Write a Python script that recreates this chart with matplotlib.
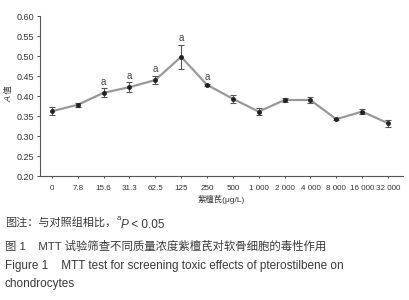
import numpy as np
import matplotlib.pyplot as plt

plt.rcParams['font.family'] = ['Liberation Sans', 'Noto Sans CJK SC', 'DejaVu Sans']

# data
doses = ["0", "7.8", "15.6", "31.3", "62.5", "125", "250", "500",
         "1 000", "2 000", "4 000", "8 000", "16 000", "32 000"]
a_vals = [0.362, 0.378, 0.408, 0.422, 0.440, 0.498, 0.428, 0.393,
          0.361, 0.390, 0.390, 0.342, 0.361, 0.332]
a_err = [0.010, 0.005, 0.011, 0.012, 0.010, 0.030, 0.003, 0.010,
         0.008, 0.006, 0.007, 0.002, 0.007, 0.009]
sig = [False, False, True, True, True, True, True, False,
       False, False, False, False, False, False]

fig = plt.figure(figsize=(4.1, 3.0), dpi=100)
ax = fig.add_axes([40/410, 1-176/300, 363/410, 160/300])

x = np.arange(len(doses))
ax.plot(x, a_vals, color="#999999", lw=1.6, zorder=1)
ax.errorbar(x, a_vals, yerr=a_err, fmt="o", ms=2.5, color="#222222",
            ecolor="#555555", elinewidth=0.8, capsize=2, capthick=0.8, zorder=2)
for xi, v, e, s in zip(x, a_vals, a_err, sig):
    if s:
        ax.text(xi, v + e + 0.004, "a", ha="center", va="bottom",
                fontsize=7, color="#444444")

ax.set_xlim(-0.46, 13.58)
ax.set_ylim(0.20, 0.60)
yt = np.arange(0.20, 0.601, 0.05)
ax.set_yticks(yt)
ax.set_yticklabels([f"{v:.2f}" for v in yt])
ax.set_xticks(x)
ax.set_xticklabels(doses)
ax.tick_params(labelsize=6.5, colors="#333333", length=2, width=0.6, pad=2)
ax.tick_params(axis="x", length=1.5, pad=5, labelsize=5.8)
for side in ("top", "right"):
    ax.spines[side].set_visible(False)
for side in ("left", "bottom"):
    ax.spines[side].set_color("#555555")
    ax.spines[side].set_linewidth(0.8)

# y label: italic A + 值
ax.text(-0.085, 0.5, "A", transform=ax.transAxes, rotation=90, fontsize=6.5,
        style="italic", color="#333333", ha="center", va="top")
ax.text(-0.085, 0.5, " 值", transform=ax.transAxes, rotation=90, fontsize=6,
        color="#333333", ha="center", va="bottom")
ax.set_xlabel("紫檀芪(μg/L)", fontsize=6, color="#333333", labelpad=2)

tc = "#3a3a3a"
t1 = fig.text(0.012, 1-226/300, "图注：与对照组相比，", fontsize=8,
              color=tc, va="baseline")
t2 = ax.annotate("a", xy=(1, 0.55), xycoords=t1, fontsize=5.5, color=tc,
                 va="bottom", ha="left")
ax.annotate("P", xy=(1, 0), xycoords=(t2, t1), fontsize=8.5, color=tc,
            style="italic", va="baseline", ha="left", annotation_clip=False)
t3 = ax.annotate("P", xy=(1, 0), xycoords=(t2, t1), fontsize=8.5, alpha=0,
                 va="baseline", ha="left", style="italic")
ax.annotate(" < 0.05", xy=(1, 0), xycoords=(t3, t1), fontsize=8.5, color=tc,
            va="baseline", ha="left")
fig.text(0.012, 1-250/300, "图 1    MTT 试验筛查不同质量浓度紫檀芪对软骨细胞的毒性作用",
         fontsize=8.2, color=tc, va="baseline")
fig.text(0.012, 1-269/300, "Figure 1    MTT test for screening toxic effects of pterostilbene on",
         fontsize=8.5, color=tc, va="baseline")
fig.text(0.012, 1-287/300, "chondrocytes", fontsize=8.5, color=tc, va="baseline")

fig.savefig("out.png", dpi=100)
